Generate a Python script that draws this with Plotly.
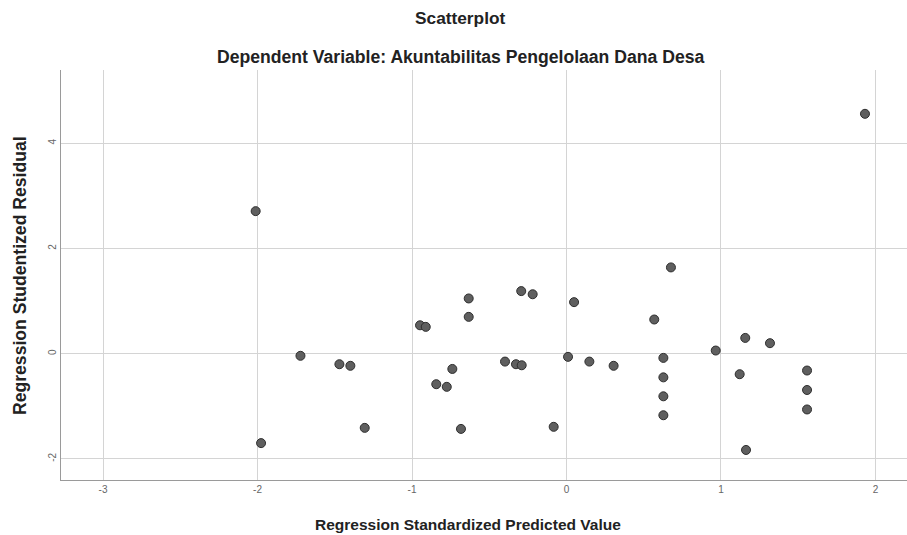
import plotly.graph_objects as go

# Regression Standardized Predicted Value
pred = [-2.012, -1.977, -1.722, -1.470, -1.399, -1.306, -0.948, -0.911, -0.633, -0.633,
        -0.293, -0.219, -0.739, -0.843, -0.775, -0.683, -0.398, -0.327, -0.290,
        0.049, 0.676, 0.568, 1.157, 1.317, 0.966, 0.010, 0.148, 0.305,
        0.627, 0.627, 0.627, 0.627, 1.121, 1.557, 1.557, 1.557, -0.083, 1.162, 1.932]
# Regression Studentized Residual
resid = [2.71, -1.70, -0.04, -0.20, -0.23, -1.41, 0.54, 0.51, 1.05, 0.70,
         1.19, 1.13, -0.29, -0.58, -0.63, -1.43, -0.15, -0.20, -0.22,
         0.98, 1.64, 0.65, 0.30, 0.20, 0.06, -0.06, -0.15, -0.23,
         -0.08, -0.45, -0.81, -1.17, -0.39, -0.32, -0.69, -1.06, -1.39, -1.83, 4.56]

x_ticks = [-3, -2, -1, 0, 1, 2]
y_ticks = [-2, 0, 2, 4]

font = "Liberation Sans, Arial, sans-serif"
W, H = 907, 535
L, R, T, B = 61, 0, 70, 535 - 480
PW, PH = W - L - R, H - T - B


def px_x(p):
    return (p - L) / PW


def px_y(p):
    return (H - B - p) / PH


fig = go.Figure(go.Scatter(
    x=pred, y=resid, mode="markers",
    marker=dict(size=9, color="#5f5f5f", line=dict(color="#2e2e2e", width=1)),
    showlegend=False,
))

fig.update_layout(
    width=W, height=H,
    margin=dict(l=L, r=R, t=T, b=B),
    paper_bgcolor="white", plot_bgcolor="white",
    font=dict(family=font, color="#222"),
    annotations=[
        dict(text="<b>Scatterplot</b>", x=px_x(460), y=px_y(18),
             xref="paper", yref="paper", xanchor="center", yanchor="middle",
             showarrow=False, font=dict(size=17.3, color="#222")),
        dict(text="<b>Dependent Variable: Akuntabilitas Pengelolaan Dana Desa</b>",
             x=px_x(460), y=px_y(57), xref="paper", yref="paper",
             xanchor="center", yanchor="middle",
             showarrow=False, font=dict(size=17.6, color="#222")),
        dict(text="<b>Regression Standardized Predicted Value</b>",
             x=px_x(468), y=px_y(524), xref="paper", yref="paper",
             xanchor="center", yanchor="middle",
             showarrow=False, font=dict(size=15.5, color="#222")),
        dict(text="<b>Regression Studentized Residual</b>", textangle=-90,
             x=px_x(20), y=px_y(276), xref="paper", yref="paper",
             xanchor="center", yanchor="middle",
             showarrow=False, font=dict(size=17.6, color="#222")),
    ],
)

fig.update_xaxes(
    range=[-3.272, 2.204], tickvals=x_ticks, ticktext=[str(v) for v in x_ticks],
    showgrid=True, gridcolor="#d4d4d4", gridwidth=1, zeroline=False,
    showline=True, linecolor="#9a9a9a", linewidth=1, automargin=False,
    ticks="", tickfont=dict(size=10, color="#666", family=font),
)
fig.update_yaxes(
    range=[-2.401, 5.393], tickvals=y_ticks, ticktext=[str(v) for v in y_ticks],
    showgrid=True, gridcolor="#d4d4d4", gridwidth=1, zeroline=False,
    showline=True, linecolor="#9a9a9a", linewidth=1, automargin=False,
    ticks="", tickangle=-90, tickfont=dict(size=10, color="#666", family=font),
)

fig.write_html(
    "out.html",
    config={"displayModeBar": False},
    post_script="document.body.style.margin='0';"
                "document.documentElement.style.overflow='hidden';"
                "document.body.style.overflow='hidden';",
)
